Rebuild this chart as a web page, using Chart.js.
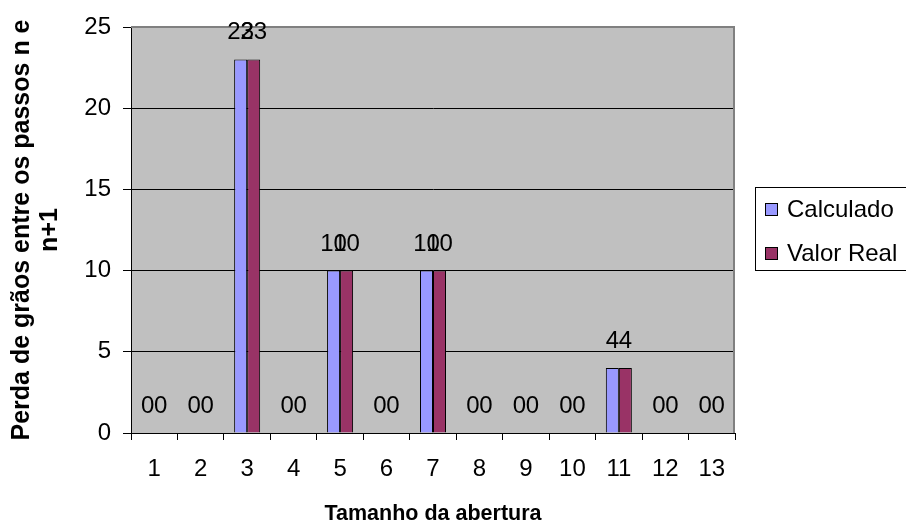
<!DOCTYPE html>
<html>
<head>
<meta charset="utf-8">
<script src="https://cdn.jsdelivr.net/npm/chart.js@4/dist/chart.umd.min.js"></script>
<style>
  html, body { margin: 0; padding: 0; background: #fff; }
  #wrap { width: 906px; height: 527px; }
</style>
</head>
<body>
<div id="wrap"><canvas id="myBarChart" width="906" height="527"></canvas></div>
<script>
const categories = ["1", "2", "3", "4", "5", "6", "7", "8", "9", "10", "11", "12", "13"];
const calculado = [0, 0, 23, 0, 10, 0, 10, 0, 0, 0, 4, 0, 0];
const valorReal = [0, 0, 23, 0, 10, 0, 10, 0, 0, 0, 4, 0, 0];
const seriesNames = ["Calculado", "Valor Real"];
const seriesColors = ["#9999FF", "#993366"];
const yTitle = ["Perda de grãos entre os passos n e", "n+1"];
const xTitle = "Tamanho da abertura";

const FONT = "'Liberation Sans', Arial, sans-serif";

// grey plot area like the old Excel charts
const plotBackground = {
  id: "plotBackground",
  beforeDraw(chart) {
    const { ctx, chartArea: a } = chart;
    ctx.save();
    ctx.fillStyle = "#C0C0C0";
    ctx.fillRect(a.left, a.top, a.right - a.left, a.bottom - a.top);
    ctx.restore();
  },
  beforeDatasetsDraw(chart) {
    const { ctx, chartArea: a } = chart;
    ctx.save();
    ctx.strokeStyle = "#808080";
    ctx.lineWidth = 2;
    ctx.beginPath();
    ctx.moveTo(a.left, a.top);
    ctx.lineTo(a.right - 1, a.top);
    ctx.lineTo(a.right - 1, a.bottom);
    ctx.stroke();
    ctx.restore();
  },
};

// value labels above each bar
const valueLabels = {
  id: "valueLabels",
  afterDatasetsDraw(chart) {
    const { ctx } = chart;
    ctx.save();
    ctx.font = "24px " + FONT;
    ctx.fillStyle = "#000";
    ctx.textAlign = "center";
    ctx.textBaseline = "alphabetic";
    chart.data.datasets.forEach((ds, i) => {
      chart.getDatasetMeta(i).data.forEach((bar, j) => {
        ctx.fillText(String(ds.data[j]), bar.x, bar.y - 20);
      });
    });
    ctx.restore();
  },
};

// boxed legend on the right
const boxLegend = {
  id: "boxLegend",
  afterDraw(chart) {
    const { ctx } = chart;
    ctx.save();
    ctx.strokeStyle = "#000";
    ctx.lineWidth = 1;
    ctx.strokeRect(755.5, 187.5, 170, 83);
    ctx.font = "24px " + FONT;
    ctx.textBaseline = "middle";
    ctx.textAlign = "left";
    chart.data.datasets.forEach((ds, i) => {
      const y = 209 + i * 44;
      ctx.fillStyle = ds.backgroundColor;
      ctx.fillRect(765, y - 6, 13, 13);
      ctx.strokeRect(765.5, y - 5.5, 12, 12);
      ctx.fillStyle = "#000";
      ctx.fillText(ds.label, 787, y + 1);
    });
    ctx.restore();
  },
};

new Chart(document.getElementById("myBarChart").getContext("2d"), {
  type: "bar",
  data: {
    labels: categories,
    datasets: [
      {
        label: seriesNames[0],
        data: calculado,
        backgroundColor: seriesColors[0],
        borderColor: "#000",
        borderWidth: 1,
        categoryPercentage: 0.56,
        barPercentage: 1,
      },
      {
        label: seriesNames[1],
        data: valorReal,
        backgroundColor: seriesColors[1],
        borderColor: "#000",
        borderWidth: 1,
        categoryPercentage: 0.56,
        barPercentage: 1,
      },
    ],
  },
  options: {
    responsive: false,
    animation: false,
    devicePixelRatio: 1,
    layout: { padding: { left: 0, right: 171, top: 27, bottom: 0 } },
    plugins: {
      legend: { display: false },
      tooltip: { enabled: false },
    },
    scales: {
      x: {
        offset: true,
        afterFit(scale) { scale.height = 94; },
        grid: {
          offset: true,
          drawOnChartArea: false,
          drawTicks: true,
          tickLength: 7,
          color: "#000",
        },
        border: { color: "#000", width: 1 },
        ticks: { color: "#000", font: { family: FONT, size: 24 }, padding: 15, maxRotation: 0 },
        title: {
          display: true,
          text: xTitle,
          color: "#000",
          font: { family: FONT, size: 21.5, weight: "bold" },
          padding: { top: 0, bottom: 0 },
        },
      },
      y: {
        min: 0,
        max: 25,
        afterFit(scale) { scale.width = 131; },
        grid: {
          color: "#000",
          drawTicks: true,
          tickLength: 8,
        },
        border: { color: "#000", width: 1 },
        ticks: {
          stepSize: 5,
          color: "#000",
          font: { family: FONT, size: 24 },
          padding: 12,
        },
        title: {
          display: true,
          text: yTitle,
          color: "#000",
          font: { family: FONT, size: 25, weight: "bold", lineHeight: 1.12 },
          padding: { top: 8, bottom: 0 },
        },
      },
    },
  },
  plugins: [plotBackground, valueLabels, boxLegend],
});
</script>
</body>
</html>
